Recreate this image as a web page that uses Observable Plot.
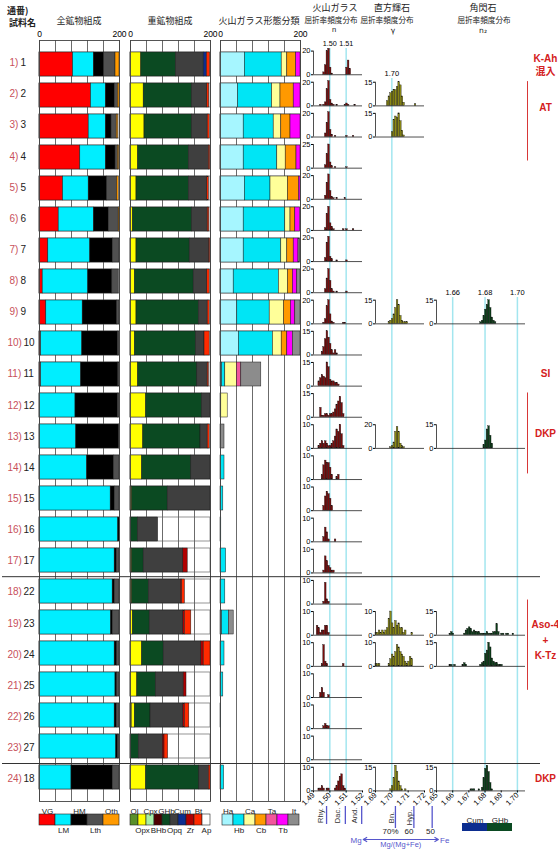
<!DOCTYPE html>
<html><head><meta charset="utf-8">
<script src="https://cdn.jsdelivr.net/npm/d3@7"></script>
<script src="https://cdn.jsdelivr.net/npm/@observablehq/plot@0.6"></script>
<style>
body{margin:0;background:#fff;}
#chart{position:relative;width:558px;height:849px;overflow:hidden;background:#fff;}
.t{position:absolute;font-family:"Noto Sans CJK JP","Noto Sans",sans-serif;font-size:9px;line-height:1;color:#222;white-space:nowrap;}
.c{transform:translateX(-50%);}
.s{font-size:7.6px;}
</style></head><body>
<div id="chart">
<div class="t" style="left:7px;top:6px;font-weight:bold">通番)</div>
<div class="t" style="left:9px;top:18px;font-weight:bold">試料名</div>
<div class="t c" style="left:79px;top:16px">全鉱物組成</div>
<div class="t c" style="left:170px;top:16px">重鉱物組成</div>
<div class="t c" style="left:259px;top:16px">火山ガラス形態分類</div>
<div class="t c" style="left:335px;top:3px">火山ガラス</div>
<div class="t c s" style="left:331px;top:16px">屈折率頻度分布</div>
<div class="t c s" style="left:334px;top:26px;font-family:'Liberation Sans'">n</div>
<div class="t c" style="left:392px;top:3px">直方輝石</div>
<div class="t c s" style="left:387px;top:16px">屈折率頻度分布</div>
<div class="t c s" style="left:393px;top:27px;font-family:'DejaVu Sans'">γ</div>
<div class="t c" style="left:483px;top:3px">角閃石</div>
<div class="t c s" style="left:484px;top:16px">屈折率頻度分布</div>
<div class="t c s" style="left:483px;top:27px;font-family:'DejaVu Sans'">n₂</div>
</div>
<script>
// ---------------- DATA ----------------
const seq = [1,2,3,4,5,6,7,8,9,10,11,12,13,14,15,16,17,18,19,20,21,22,23,24];
const sampleName = ["1","2","3","4","5","6","7","8","9","10","11","12","13","14","15","16","17","22","23","24","25","26","27","18"];

// 全鉱物組成 (counts out of 200)
const allCats = ["VG","LM","HM","Lth","Oth"];
const allVG  = [84,129,123,102,59,48,22,8,17,4,4,0,0,0,0,0,0,0,0,0,0,0,0,0];
const allLM  = [52,37,43,64,64,88,105,114,91,103,100,90,92,119,178,197,188,183,179,188,190,188,192,80];
const allHM  = [25,22,14,24,46,37,56,60,86,89,93,106,106,67,10,3,5,5,4,6,4,5,4,103];
const allLth = [29,8,13,6,25,25,17,16,6,4,3,4,2,14,12,0,7,12,17,6,6,7,4,17];
const allOth = [10,4,4,3,4,2,0,0,0,0,0,0,0,0,0,0,0,0,0,0,0,0,0,0];

// 重鉱物組成
const hvCats = ["Ol","Opx","Cpx","BHb","GHb","Opq","Cum","Zr","Bt","Ap"];
const hvOl  = [0,0,0,0,0,0,0,0,0,0,0,0,0,0,0,0,0,0,0,0,0,3,0,0];
const hvOpx = [27,33,35,19,15,6,15,11,15,11,19,39,32,29,4,0,4,4,6,29,17,8,0,39];
const hvCpx = [0,0,0,0,0,0,0,0,0,0,0,0,0,0,0,0,0,0,0,0,0,0,0,0];
const hvBHb = [0,0,0,0,0,0,0,0,0,0,0,0,0,0,0,0,0,0,0,0,0,0,0,0];
const hvGHb = [87,121,119,127,131,148,133,147,156,153,148,140,143,123,89,19,29,42,42,54,47,39,21,133];
const hvOpq = [69,38,39,50,46,39,49,34,22,21,26,21,18,48,107,50,99,80,84,94,69,82,60,24];
const hvCum = [8,0,0,0,0,0,0,0,0,0,0,0,0,0,0,0,0,0,0,0,0,0,0,0];
const hvZr  = [0,0,0,0,0,0,0,0,0,0,0,0,0,0,0,0,11,3,4,6,7,4,4,0];
const hvBt  = [8,5,5,3,4,4,2,6,5,13,3,0,5,0,0,0,0,7,16,17,0,11,9,4];
const hvAp  = [0,0,0,0,0,0,0,0,0,0,0,0,0,0,0,0,0,0,0,0,0,0,0,0];

// 火山ガラス形態分類
const gsCats = ["Ha","Hb","Ca","Cb","Ta","Tb","It"];
const gsHa = [61,44,58,58,61,58,58,33,42,46,4,2,0,0,0,0,0,0,4,0,0,0,0,0];
const gsHb = [92,85,75,84,64,104,94,113,81,85,8,0,0,10,7,2,14,12,17,10,7,1,0,9];
const gsCa = [14,21,19,21,44,13,15,23,36,22,29,16,0,0,0,0,0,0,0,0,0,0,0,0];
const gsCb = [22,33,23,27,27,12,16,12,17,14,0,0,0,0,0,0,0,0,0,0,0,0,0,0];
const gsTa = [0,0,0,0,0,0,0,0,0,0,11,0,0,0,0,0,0,0,0,0,0,0,0,0];
const gsTb = [11,17,25,10,4,12,12,11,11,14,0,0,0,0,0,0,0,0,0,0,0,0,0,0];
const gsIt = [0,0,0,0,0,0,4,8,13,19,50,0,10,0,0,0,0,0,12,0,0,0,0,0];

// 火山ガラス屈折率 (bin start, count), bin 0.001
const glassYMax = [20,20,20,25,20,20,20,20,20,15,15,15,10,10,10,10,10,10,10,10,10,10,10,10];
const glassHist = [
 [[1.496,2],[1.497,8],[1.498,20],[1.499,22],[1.500,6],[1.501,1],[1.510,6],[1.511,12],[1.512,5]],
 [[1.494,1],[1.496,1],[1.497,3],[1.498,14],[1.499,21],[1.500,5],[1.501,2],[1.502,1],[1.504,1],[1.509,1],[1.510,2],[1.511,1],[1.515,1]],
 [[1.497,3],[1.498,12],[1.499,21],[1.500,6],[1.501,2],[1.503,1],[1.510,1],[1.514,1]],
 [[1.497,3],[1.498,15],[1.499,25],[1.500,6],[1.501,2],[1.503,1],[1.510,1]],
 [[1.497,3],[1.498,14],[1.499,21],[1.500,7],[1.501,2],[1.502,1],[1.504,1],[1.509,1]],
 [[1.497,2],[1.498,14],[1.499,20],[1.500,6],[1.501,3],[1.502,1],[1.508,1],[1.510,1],[1.514,1]],
 [[1.497,3],[1.498,16],[1.499,21],[1.500,4],[1.501,2],[1.504,1],[1.510,1]],
 [[1.497,3],[1.498,12],[1.499,20],[1.500,10],[1.501,3],[1.502,1],[1.504,1],[1.510,1]],
 [[1.496,1],[1.497,4],[1.498,15],[1.499,20],[1.500,8],[1.501,2],[1.502,1],[1.508,1],[1.509,1]],
 [[1.495,2],[1.496,5],[1.497,10],[1.498,15],[1.499,11],[1.500,7],[1.501,3],[1.502,1],[1.503,3],[1.504,1]],
 [[1.493,3],[1.494,5],[1.495,7],[1.496,6],[1.497,5],[1.498,15],[1.499,12],[1.500,4],[1.501,3],[1.502,3],[1.503,2],[1.504,2],[1.505,1]],
 [[1.494,6],[1.495,1],[1.496,1],[1.497,2],[1.498,2],[1.499,1],[1.500,2],[1.501,2],[1.502,3],[1.503,5],[1.504,8],[1.505,10],[1.506,13],[1.507,9],[1.508,2]],
 [[1.493,1],[1.494,2],[1.495,3],[1.496,2],[1.497,3],[1.498,2],[1.499,1],[1.500,1],[1.501,2],[1.502,3],[1.503,5],[1.504,8],[1.505,7],[1.506,10],[1.507,6],[1.508,1]],
 [[1.495,2],[1.496,6],[1.497,8],[1.498,7],[1.499,7],[1.500,5],[1.501,2],[1.504,1],[1.505,2]],
 [[1.496,2],[1.497,6],[1.498,8],[1.499,7],[1.500,5],[1.501,2]],
 [[1.496,2],[1.497,6],[1.498,4],[1.499,1],[1.503,1]],
 [[1.496,1],[1.497,7],[1.498,5],[1.499,3],[1.500,2],[1.501,1],[1.502,1]],
 [[1.496,1],[1.497,9],[1.498,2],[1.499,1]],
 [[1.492,4],[1.493,3],[1.494,1],[1.495,2],[1.496,2],[1.497,4],[1.498,4],[1.499,1]],
 [[1.495,1],[1.496,9],[1.497,2],[1.498,1],[1.508,1]],
 [[1.494,2],[1.495,4],[1.496,2],[1.499,1]],
 [[1.496,1],[1.497,2],[1.498,1],[1.499,1]],
 [],
 [[1.493,1],[1.494,1],[1.495,2],[1.496,1],[1.498,1],[1.499,1],[1.503,1],[1.504,2],[1.505,4],[1.506,6],[1.507,7],[1.508,2],[1.509,1]]
];

// 直方輝石屈折率
const opxRows = [2,3,9,13,19,20,24];
const opxYMax = [15,15,15,20,10,10,15];
const opxHist = [
 [[1.697,3],[1.698,6],[1.699,8],[1.700,9],[1.701,10],[1.702,10],[1.703,12],[1.704,15],[1.705,13],[1.706,6],[1.707,2],[1.714,1]],
 [[1.700,3],[1.701,11],[1.702,13],[1.703,12],[1.704,15],[1.705,10],[1.706,4],[1.707,1]],
 [[1.698,1],[1.699,2],[1.700,3],[1.701,6],[1.702,10],[1.703,15],[1.704,12],[1.705,5],[1.706,2],[1.707,1],[1.708,1],[1.709,1]],
 [[1.699,1],[1.700,2],[1.701,5],[1.702,14],[1.703,18],[1.704,14],[1.705,4],[1.706,2],[1.707,1]],
 [[1.690,1],[1.691,1],[1.692,2],[1.693,1],[1.694,2],[1.695,1],[1.696,2],[1.697,3],[1.698,7],[1.699,10],[1.700,5],[1.701,3],[1.702,6],[1.703,4],[1.704,5],[1.705,3],[1.706,3],[1.707,1],[1.708,2],[1.712,1]],
 [[1.690,1],[1.691,1],[1.692,1],[1.698,1],[1.699,3],[1.700,5],[1.701,4],[1.702,6],[1.703,9],[1.704,8],[1.705,6],[1.706,5],[1.707,4],[1.708,2],[1.709,1],[1.710,2],[1.711,4],[1.712,3]],
 [[1.699,1],[1.700,3],[1.701,8],[1.702,16],[1.703,12],[1.704,6],[1.705,3],[1.706,1],[1.708,1]]
];

// 角閃石屈折率
const hblRows = [9,13,19,20,24];
const hblYMax = [15,15,15,15,15];
const hblHist = [
 [[1.677,1],[1.678,2],[1.679,5],[1.680,9],[1.681,12],[1.682,15],[1.683,10],[1.684,4],[1.685,2],[1.686,1]],
 [[1.679,2],[1.680,5],[1.681,12],[1.682,14],[1.683,8],[1.684,3]],
 [[1.658,1],[1.659,2],[1.660,1],[1.667,1],[1.668,3],[1.669,4],[1.670,5],[1.671,4],[1.672,2],[1.673,3],[1.674,2],[1.675,2],[1.676,2],[1.677,1],[1.678,1],[1.679,1],[1.680,1],[1.681,2],[1.682,1],[1.683,1],[1.684,1],[1.685,2],[1.686,2],[1.687,7],[1.688,2],[1.690,1],[1.691,1],[1.693,1],[1.694,1],[1.697,1]],
 [[1.658,1],[1.659,1],[1.661,1],[1.666,1],[1.667,2],[1.668,1],[1.677,1],[1.678,2],[1.679,3],[1.680,8],[1.681,10],[1.682,15],[1.683,12],[1.684,5],[1.685,3],[1.686,2],[1.687,2],[1.688,1],[1.689,1],[1.690,1]],
 [[1.671,1],[1.672,1],[1.673,1],[1.676,1],[1.678,2],[1.679,8],[1.680,14],[1.681,16],[1.682,12],[1.683,5],[1.684,1]]
];

// axes / reference values
const scaleTicks = [0, 200];
const gridTicks = [0, 40, 80, 120, 160, 200];
const glassDomain = [1.49, 1.52], glassTicks = [1.49, 1.50, 1.51, 1.52], glassRef = [1.50, 1.51];
const opxDomain = [1.69, 1.72], opxTicks = [1.69, 1.70, 1.71, 1.72], opxRef = [1.70];
const hblDomain = [1.65, 1.705], hblTicks = [1.65, 1.66, 1.67, 1.68, 1.69, 1.70], hblRef = [1.66, 1.68, 1.70];
const glassClassBounds = [1.498, 1.5095, 1.5195];
const glassClassNames = ["Rhy.", "Dac.", "And."];
const glassClassPos = [1.4942, 1.5047, 1.5152];
const opxClassBounds = [1.7022, 1.7135, 1.7247];
const opxClassNames = ["Bn.", "Hyp."];
const opxClassPos = [1.6998, 1.7106];
const mgLabels = ["70%", "60", "50"];
const mgLabelPos = [1.6992, 1.7105, 1.7237];
const arrowFrom = [1.7055, 1.7055], arrowTo = [1.6825, 1.7285];
const hblLegend = ["Cum", "GHb"];

// annotations (row index units)
const noteText = ["K-Ah","混入","AT","SI","DKP","Aso-4","+","K-Tz","DKP"];
const noteRow  = [0.86,1.28,2.45,11.0,12.9,19.05,19.55,20.05,24.0];
const bracketFrom = [1.6, 11.6, 18.25];
const bracketTo   = [4.15, 14.2, 21.15];
const dividerRows = [17.5, 23.5];

// ---------------- STYLE ----------------
const allColors = ["#ff0000","#00eeff","#000000","#505050","#ff9a00"];
const hvColors = ["#5a8f29","#ffff00","#a6f0a6","#4d0000","#0b4a22","#3f3f3f","#0c2d8f","#b00000","#ff2a00","#ffffff"];
const gsColors = ["#a6f6ff","#00e5f5","#ffff99","#ff9900","#f2559c","#ff00ff","#8c8c8c"];
const GLASS_FILL = "#7a0c0c", OPX_FILL = "#8c8a14", HBL_FILL = "#0b3d18";
const CYAN = "#a3e6ef", BLUE = "#5656cc", RED = "#d42020";
const W = 558, H = 849, FRAME_TOP = 40, FRAME_BOTTOM = 801;
const ROW_PAD = {paddingInner: 0.24, paddingOuter: 0.34};
const SANS = '"Liberation Sans", Arial, sans-serif';
const chart = document.getElementById("chart");

function mount(svg, fs = 9) {
  svg.setAttribute("style", `position:absolute;left:0;top:0;background:transparent;overflow:visible;font-family:${SANS};font-size:${fs}px;max-width:none;`);
  chart.appendChild(svg);
}

const bandScale = Plot.scale({y: {type: "band", domain: seq, range: [FRAME_TOP, FRAME_BOTTOM], ...ROW_PAD}});
const BW = bandScale.bandwidth;
const cFirst = bandScale.apply(seq[0]) + BW / 2;
const cLast = bandScale.apply(seq[seq.length - 1]) + BW / 2;

function longForm(cats, series) {
  const out = [];
  seq.forEach((s, i) => cats.forEach((c, j) => { if (series[j][i] > 0) out.push({seq: s, cat: c, value: series[j][i]}); }));
  return out;
}

function stackPanel(cats, colors, series, x0, x1, framed) {
  return Plot.plot({
    width: W, height: H, marginTop: FRAME_TOP, marginBottom: H - FRAME_BOTTOM, marginLeft: x0, marginRight: W - x1,
    x: {domain: [0, 200], axis: "top", ticks: scaleTicks, tickSize: 0, tickPadding: 4, label: null},
    y: {type: "band", domain: seq, ...ROW_PAD, axis: null},
    color: {domain: cats, range: colors},
    marks: [
      Plot.barX(framed, {x1: 0, x2: 200, y: d => d, fill: "white", stroke: "#7a7a7a", strokeWidth: 0.8}),
      Plot.ruleX(gridTicks, {stroke: "#5a5a5a", strokeWidth: 0.9}),
      Plot.barX(longForm(cats, series), Plot.stackX({x: "value", y: "seq", fill: "cat", order: cats, stroke: "#1a1a1a", strokeWidth: 0.5})),
      Plot.frame({stroke: "#444", strokeWidth: 0.9})
    ]
  });
}

function legendPlot(cats, colors, x0, x1) {
  const top = cats.filter((d, i) => i % 2 === 0), bottom = cats.filter((d, i) => i % 2 === 1);
  return Plot.plot({
    width: W, height: H, marginTop: 814, marginBottom: H - 825, marginLeft: x0, marginRight: W - x1,
    x: {type: "band", domain: cats, padding: 0, axis: null},
    y: {domain: [0, 1], axis: null},
    color: {domain: cats, range: colors},
    marks: [
      Plot.barY(cats, {x: d => d, y: () => 1, fill: d => d, stroke: "#222", strokeWidth: 0.6}),
      Plot.text(top, {x: d => d, text: d => d, frameAnchor: "top", dy: -6, fontSize: 8, fill: "#222"}),
      Plot.text(bottom, {x: d => d, text: d => d, frameAnchor: "bottom", dy: 7, fontSize: 8, fill: "#222"})
    ]
  });
}

function refPlot(domain, x0, x1, refs, top, bottom) {
  return Plot.plot({
    width: W, height: H, marginTop: top, marginBottom: H - bottom, marginLeft: x0, marginRight: W - x1,
    x: {domain, axis: "top", ticks: refs, tickFormat: ".2f", tickSize: 0, tickPadding: 3, label: null},
    marks: [Plot.ruleX(refs, {stroke: CYAN, strokeWidth: 1.5})]
  });
}

function histPlot(s, pairs, yMax, domain, x0, x1, fill, ticks, showX) {
  const top = bandScale.apply(s);
  const data = pairs.map(([ri, n]) => ({ri, n}));
  return Plot.plot({
    width: W, height: H, marginTop: top, marginBottom: H - top - BW, marginLeft: x0, marginRight: W - x1,
    x: {domain, axis: showX ? "bottom" : null, ticks, tickFormat: ".2f", tickRotate: -45, tickSize: 2, tickPadding: 1, label: null},
    y: {domain: [0, yMax], ticks: [0, yMax], tickSize: 2, tickPadding: 1, label: null},
    marks: [
      Plot.rectY(data, {x1: "ri", x2: d => d.ri + 0.001, y: "n", fill, stroke: "#111", strokeWidth: 0.35}),
      Plot.ruleY([0], {stroke: "#222", strokeWidth: 0.8}),
      Plot.ruleX([domain[0]], {stroke: "#222", strokeWidth: 0.8})
    ]
  });
}

// ---------------- PANELS ----------------
mount(stackPanel(allCats, allColors, [allVG, allLM, allHM, allLth, allOth], 39, 119, seq), 8.5);
mount(stackPanel(hvCats, hvColors, [hvOl, hvOpx, hvCpx, hvBHb, hvGHb, hvOpq, hvCum, hvZr, hvBt, hvAp], 130, 210, seq), 8.5);
mount(stackPanel(gsCats, gsColors, [gsHa, gsHb, gsCa, gsCb, gsTa, gsTb, gsIt], 220, 300, seq.slice(0, 10)), 8.5);
mount(legendPlot(allCats, allColors, 39, 119));
mount(legendPlot(hvCats, hvColors, 130, 210));
mount(legendPlot(gsCats, gsColors, 220, 300));

// reference lines
mount(refPlot(glassDomain, 313, 362, glassRef, 48, 793), 7.2);
mount(refPlot(opxDomain, 375, 424, opxRef, 78, 793), 7.5);
mount(refPlot(hblDomain, 436, 525, hblRef, 297, 793), 7.5);

// histograms
glassHist.forEach((pairs, i) => mount(histPlot(seq[i], pairs, glassYMax[i], glassDomain, 313, 362, GLASS_FILL, glassTicks, i === seq.length - 1), 7.5));
opxRows.forEach((s, i) => mount(histPlot(s, opxHist[i], opxYMax[i], opxDomain, 375, 424, OPX_FILL, opxTicks, s === 24), 7.5));
hblRows.forEach((s, i) => mount(histPlot(s, hblHist[i], hblYMax[i], hblDomain, 436, 525, HBL_FILL, hblTicks, s === 24), 7.5));

// class indicators under axes
mount(Plot.plot({
  width: W, height: H, marginTop: 806, marginBottom: H - 824, marginLeft: 313, marginRight: W - 362,
  x: {domain: glassDomain, axis: null},
  marks: [
    Plot.ruleX(glassClassBounds, {stroke: BLUE, strokeWidth: 1.3}),
    Plot.text(glassClassNames, {x: (d, i) => glassClassPos[i], text: d => d, rotate: -90, fill: "#333", fontSize: 7.5})
  ]
}));
mount(Plot.plot({
  width: W, height: H, marginTop: 806, marginBottom: H - 828, marginLeft: 375, marginRight: W - 424,
  x: {domain: opxDomain, axis: null},
  marks: [
    Plot.ruleX(opxClassBounds, {stroke: BLUE, strokeWidth: 1.3}),
    Plot.text(opxClassNames, {x: (d, i) => opxClassPos[i], text: d => d, rotate: -90, fill: "#333", fontSize: 7.5}),
    Plot.text(mgLabels, {x: (d, i) => mgLabelPos[i], text: d => d, frameAnchor: "bottom", dy: 5, fill: "#222", fontSize: 8})
  ]
}));
mount(Plot.plot({
  width: W, height: H, marginTop: 836, marginBottom: H - 842, marginLeft: 375, marginRight: W - 424,
  x: {domain: opxDomain, axis: null},
  y: {domain: [0, 1], axis: null},
  marks: [
    Plot.arrow(arrowFrom, {x1: d => d, x2: (d, i) => arrowTo[i], y1: 0.5, y2: 0.5, stroke: BLUE, strokeWidth: 1.2, headLength: 5}),
    Plot.text(["Mg"], {x: arrowTo[0] - 0.001, y: 0.5, text: d => d, textAnchor: "end", dy: 1, fill: BLUE, fontSize: 8}),
    Plot.text(["Fe"], {x: arrowTo[1] + 0.001, y: 0.5, text: d => d, textAnchor: "start", dy: 1, fill: BLUE, fontSize: 8}),
    Plot.text(["Mg/(Mg+Fe)"], {x: arrowFrom[0], y: 0.5, text: d => d, dy: 5, fill: BLUE, fontSize: 7.5})
  ]
}));
mount(Plot.plot({
  width: W, height: H, marginTop: 823, marginBottom: H - 831, marginLeft: 462, marginRight: W - 512,
  x: {type: "band", domain: hblLegend, padding: 0, axis: null},
  y: {domain: [0, 1], axis: null},
  color: {domain: hblLegend, range: [hvColors[6], hvColors[4]]},
  marks: [
    Plot.barY(hblLegend, {x: d => d, y: () => 1, fill: d => d}),
    Plot.text(hblLegend, {x: d => d, text: d => d, frameAnchor: "top", dy: -6, fontSize: 8, fill: "#222"})
  ]
}));

// row labels and dividers
const rows = seq.map((s, i) => ({seq: s, name: sampleName[i]}));
mount(Plot.plot({
  width: W, height: H, marginTop: cFirst, marginBottom: H - cLast, marginLeft: 2, marginRight: 18,
  x: {domain: [0, 1], axis: null},
  y: {domain: [seq[0], seq[seq.length - 1]], reverse: true, axis: null},
  marks: [
    Plot.ruleY(dividerRows, {stroke: "#333", strokeWidth: 1}),
    Plot.text(rows.filter(d => d.seq < 10), {y: "seq", text: d => d.seq + ")", frameAnchor: "left", dx: 7, textAnchor: "start", fill: "#c8505a", fontSize: 10}),
    Plot.text(rows.filter(d => d.seq >= 10), {y: "seq", text: d => d.seq + ")", frameAnchor: "left", dx: 5, textAnchor: "start", fill: "#c8505a", fontSize: 10}),
    Plot.text(rows.filter(d => d.seq < 10), {y: "seq", text: "name", frameAnchor: "left", dx: 18, textAnchor: "start", fill: "#222", fontSize: 10}),
    Plot.text(rows.filter(d => d.seq >= 10), {y: "seq", text: "name", frameAnchor: "left", dx: 21, textAnchor: "start", fill: "#222", fontSize: 10})
  ]
}), 10);

// stratigraphic notes
mount(Plot.plot({
  width: W, height: H, marginTop: cFirst, marginBottom: H - cLast, marginLeft: 527, marginRight: 0,
  x: {domain: [0, 1], axis: null},
  y: {domain: [seq[0], seq[seq.length - 1]], reverse: true, axis: null},
  marks: [
    Plot.ruleX(bracketFrom, {x: () => 0, y1: d => d, y2: (d, i) => bracketTo[i], stroke: RED, strokeWidth: 0.9}),
    Plot.text(noteText, {x: () => 0.58, y: (d, i) => noteRow[i], text: d => d, fill: RED, fontWeight: "bold", fontSize: 10, fontFamily: '"Liberation Sans","Noto Sans CJK JP",sans-serif'})
  ]
}), 10);
</script>
</body></html>
